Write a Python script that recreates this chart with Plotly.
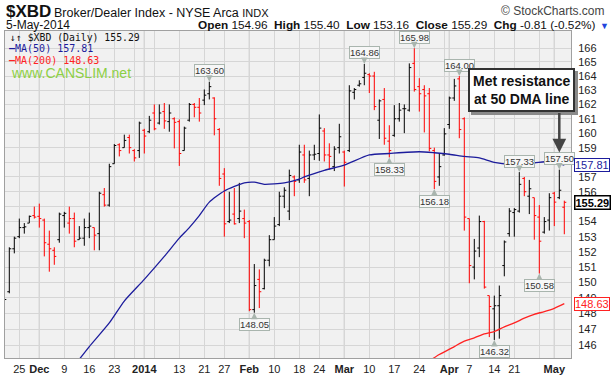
import numpy as np
import pandas as pd
import plotly.graph_objects as go

# ---------------- data ----------------
holidays = ['2013-11-28', '2013-12-25', '2014-01-01', '2014-01-20', '2014-02-17', '2014-04-18']
dates = [d.strftime('%Y-%m-%d') for d in pd.bdate_range('2013-11-20', '2014-05-05')
         if d.strftime('%Y-%m-%d') not in holidays]

opens = [149.6, 149.4, 152.2, 153.0, 153.6, 153.9, 154.4, 154.35, 154.1, 152.5,
         152.1, 152.8, 154.4, 153.9, 154.2, 152.8, 152.9, 153.6, 153.6, 153.2,
         155.8, 155.1, 157.9, 159.2, 159.0, 159.7, 158.8, 158.8, 160.2, 160.1,
         161.4, 160.7, 161.5, 160.8, 161.0, 160.8, 158.8, 160.9, 162.0, 161.8,
         162.3, 162.75, 162.45, 160.25, 157.2, 154.0, 154.5, 154.2, 154.2, 154.0,
         148.25, 150.2, 149.6, 151.45, 152.8, 153.8, 155.7, 154.7, 157.0, 156.8,
         158.5, 156.9, 158.5, 158.6, 160.15, 158.5, 157.7, 159.0, 158.7, 158.8,
         162.85, 163.35, 163.9, 164.1, 164.0, 160.9, 162.35, 159.45, 159.85, 161.0,
         161.7, 161.6, 164.9, 163.25, 163.05, 162.75, 158.8, 157.0, 158.5, 160.6,
         162.45, 163.8, 161.0, 154.2, 151.0, 152.25, 154.0, 149.15, 148.3, 148.5,
         151.1, 153.2, 154.6, 154.7, 156.9, 155.7, 155.6, 154.3, 153.3, 154.1,
         155.9, 155.6, 154.96]
highs = [149.9, 152.3, 153.0, 154.2, 153.9, 154.4, 155.0, 155.2, 154.2, 153.4,
         152.3, 154.6, 154.65, 155.0, 154.6, 153.7, 154.2, 154.6, 153.6, 156.0,
         156.25, 157.9, 159.25, 159.3, 159.9, 159.9, 158.9, 160.8, 160.3, 161.2,
         162.0, 162.0, 162.1, 162.0, 161.1, 160.95, 160.45, 162.1, 162.1, 162.45,
         163.05, 163.60, 162.5, 160.35, 157.6, 156.0, 156.25, 156.6, 154.8, 154.1,
         151.2, 150.85, 151.55, 153.1, 154.3, 156.0, 156.3, 157.5, 157.1, 159.2,
         159.2, 158.8, 159.2, 161.3, 160.35, 159.3, 159.1, 160.65, 158.8, 163.35,
         163.15, 163.7, 164.86, 164.2, 164.3, 162.35, 163.15, 160.55, 161.95, 162.1,
         162.0, 164.9, 165.98, 163.85, 163.35, 163.15, 159.0, 158.6, 160.35, 162.55,
         163.8, 164.00, 161.1, 154.2, 152.85, 154.4, 154.05, 149.15, 149.15, 149.8,
         152.75, 154.9, 154.9, 157.33, 157.0, 156.8, 155.6, 155.1, 154.3, 155.9,
         156.0, 157.50, 155.40]
lows = [148.7, 149.3, 151.9, 152.9, 153.2, 153.9, 154.2, 153.6, 151.7, 150.7,
        151.15, 152.6, 153.6, 153.2, 152.3, 152.8, 152.4, 152.9, 152.1, 152.1,
        155.0, 155.0, 157.9, 158.4, 159.0, 158.6, 158.05, 158.3, 158.6, 160.0,
        160.2, 160.6, 160.3, 160.1, 158.95, 157.75, 158.8, 160.8, 161.1, 160.8,
        161.95, 162.35, 159.85, 156.4, 153.0, 153.9, 153.8, 153.9, 152.9, 148.15,
        148.05, 148.35, 149.55, 151.05, 152.8, 153.7, 154.9, 154.1, 155.7, 156.6,
        156.6, 155.7, 158.15, 158.1, 158.05, 157.5, 157.4, 158.6, 156.35, 158.7,
        162.35, 163.25, 163.35, 162.8, 161.6, 159.6, 159.2, 158.33, 159.75, 160.8,
        160.0, 161.5, 162.9, 161.5, 160.05, 158.75, 156.18, 156.4, 158.45, 160.3,
        162.25, 159.65, 153.4, 149.95, 150.2, 151.65, 149.6, 146.5, 146.32, 146.4,
        150.4, 153.0, 153.0, 154.6, 155.7, 154.5, 152.8, 150.58, 153.2, 153.4,
        153.7, 155.5, 153.16]
closes = [148.9, 152.2, 152.9, 153.6, 153.65, 154.35, 154.3, 154.2, 152.6, 152.2,
          151.7, 154.5, 154.55, 154.2, 152.7, 152.9, 153.6, 153.7, 153.1, 155.9,
          155.1, 157.7, 159.15, 158.8, 159.5, 159.0, 158.3, 160.7, 159.8, 160.9,
          160.3, 161.4, 160.85, 161.4, 160.75, 158.6, 160.35, 162.0, 161.8, 161.4,
          162.65, 163.25, 161.0, 156.9, 153.85, 154.1, 153.85, 154.7, 153.9, 148.25,
          149.8, 149.4, 151.45, 152.8, 153.7, 155.7, 156.1, 157.1, 156.7, 158.7,
          156.8, 158.5, 158.55, 160.35, 158.5, 158.4, 158.9, 159.75, 158.0, 162.95,
          163.05, 163.45, 164.2, 164.0, 161.85, 162.25, 159.65, 158.8, 161.0, 161.6,
          161.7, 164.6, 163.05, 162.75, 162.6, 158.95, 156.7, 157.7, 159.95, 162.45,
          163.3, 160.25, 154.3, 151.1, 152.05, 154.0, 149.7, 148.45, 148.5, 149.15,
          152.65, 154.7, 154.8, 156.5, 156.0, 156.2, 154.4, 152.7, 154.0, 155.6,
          155.3, 156.10, 155.29]

ma50_dates = ['2013-12-12', '2013-12-16', '2013-12-20', '2013-12-26', '2014-01-02', '2014-01-08',
              '2014-01-13', '2014-01-15', '2014-01-17', '2014-01-22', '2014-01-27', '2014-01-31',
              '2014-02-04', '2014-02-06', '2014-02-12', '2014-02-18', '2014-02-19', '2014-02-25',
              '2014-03-03', '2014-03-10', '2014-03-14', '2014-03-24', '2014-03-27', '2014-04-01',
              '2014-04-04', '2014-04-09', '2014-04-14', '2014-04-21', '2014-04-25', '2014-04-30',
              '2014-05-05']
ma50_vals = [145.1, 145.9, 147.4, 148.8, 150.2, 151.7,
             152.9, 153.6, 154.4, 155.3, 156.05, 156.6,
             156.65, 156.5, 156.6, 156.85, 157.0, 157.45,
             157.8, 158.5, 158.6, 158.72, 158.65, 158.55,
             158.4, 158.3, 158.0, 157.85, 157.95, 158.05,
             157.81]
ma200_dates = ['2014-03-26', '2014-03-28', '2014-04-02', '2014-04-04', '2014-04-08', '2014-04-10',
               '2014-04-14', '2014-04-16', '2014-04-21', '2014-04-23', '2014-04-25', '2014-04-29',
               '2014-05-01', '2014-05-05']
ma200_vals = [145.0, 145.4, 145.9, 146.25, 146.45, 146.7,
              146.85, 147.15, 147.4, 147.7, 147.95, 148.12,
              148.33, 148.63]

tick_labels = {'2013-11-25': '25', '2013-12-02': '<b>Dec</b>', '2013-12-09': '9',
               '2013-12-16': '16', '2013-12-23': '23', '2013-12-30': '',
               '2014-01-02': '<b>2014</b>', '2014-01-06': '', '2014-01-13': '13',
               '2014-01-21': '21', '2014-01-27': '27', '2014-02-03': '<b>Feb</b>',
               '2014-02-10': '10', '2014-02-18': '18', '2014-02-24': '24',
               '2014-03-03': '<b>Mar</b>', '2014-03-10': '10', '2014-03-17': '17',
               '2014-03-24': '24', '2014-03-31': '', '2014-04-01': '<b>Apr</b>',
               '2014-04-07': '7', '2014-04-14': '14', '2014-04-21': '21',
               '2014-04-28': '', '2014-05-01': '<b>May</b>'}
month_starts = ['2013-12-02', '2014-01-02', '2014-02-03', '2014-03-03', '2014-04-01', '2014-05-01']

# price callouts: (date, value, 'high'/'low')
callouts = [('2014-01-22', 163.60, 'high'), ('2014-03-07', 164.86, 'high'),
            ('2014-03-21', 165.98, 'high'), ('2014-04-03', 164.00, 'high'),
            ('2014-03-14', 158.33, 'low'), ('2014-03-27', 156.18, 'low'),
            ('2014-02-04', 148.05, 'low'), ('2014-04-14', 146.32, 'low'),
            ('2014-04-22', 157.33, 'high'), ('2014-05-02', 157.50, 'high'),
            ('2014-04-28', 150.58, 'low')]

y_ticks = list(range(146, 167))

# ---------------- figure ----------------
W, H = 612, 375
ML, MR, MT, MB = 5, 41, 31, 17
PW, PH = W - ML - MR, H - MT - MB

pos = {d: i for i, d in enumerate(dates)}
xs = np.arange(len(dates))
n = len(dates)
up = [True] + [closes[i] >= closes[i - 1] for i in range(1, n)]

def pick(arr, mask):
    return [a for a, m in zip(arr, mask) if m]

fig = go.Figure()
for mask, col in [(up, '#000000'), ([not u for u in up], '#ff0000')]:
    fig.add_trace(go.Ohlc(
        x=pick(list(xs), mask), open=pick(opens, mask), high=pick(highs, mask),
        low=pick(lows, mask), close=pick(closes, mask),
        increasing=dict(line=dict(color=col, width=1)),
        decreasing=dict(line=dict(color=col, width=1)),
        tickwidth=0.4, showlegend=False, hoverinfo='skip'))

fig.add_trace(go.Scatter(x=[pos[d] for d in ma50_dates], y=ma50_vals, mode='lines',
                         line=dict(color='#1c1c9c', width=1.3, shape='spline', smoothing=0.6),
                         showlegend=False, hoverinfo='skip'))
fig.add_trace(go.Scatter(x=[pos[d] for d in ma200_dates], y=ma200_vals, mode='lines',
                         line=dict(color='#ff2222', width=1.3, shape='spline', smoothing=0.6),
                         showlegend=False, hoverinfo='skip'))

# y range in px calibrated: 166 at y=48, 146 at y=345 (log)
k = 297 / np.log(166 / 146)
top_val = 166 * np.exp((48 - MT) / k)
bot_val = 166 * np.exp(-((H - MB) - 48) / k)
x0 = pos['2013-11-25']
xr = [x0 + (ML - 19.3) / 5, x0 + (ML + PW - 19.3) / 5]

shapes = []
for d in month_starts:
    shapes.append(dict(type='line', xref='x', yref='paper', x0=pos[d], x1=pos[d], y0=0, y1=1,
                       line=dict(color='#b4b4b4', width=1), layer='between'))

fig.update_layout(
    width=W, height=H, margin=dict(l=ML, r=MR, t=MT, b=MB),
    paper_bgcolor='white', plot_bgcolor='#f1f1f1',
    font=dict(family='Liberation Sans, Arial, sans-serif', color='#222'),
    shapes=shapes,
    xaxis=dict(range=xr, tickvals=[pos[d] for d in tick_labels], ticktext=list(tick_labels.values()),
               showgrid=True, gridcolor='#d6d6d6', gridwidth=1, zeroline=False,
               showline=True, linecolor='#a0a0a0', mirror=True, ticks='',
               tickfont=dict(size=11, color='#222'), rangeslider=dict(visible=False),
               fixedrange=True, automargin=False, ticklabelstandoff=1),
    yaxis=dict(type='log', range=[np.log10(bot_val), np.log10(top_val)], side='right',
               tickvals=y_ticks, ticktext=[str(v) for v in y_ticks],
               showgrid=True, gridcolor='#d6d6d6', gridwidth=1, zeroline=False,
               showline=True, linecolor='#a0a0a0', mirror=True, ticks='',
               tickfont=dict(size=11, color='#222'), ticklabelstandoff=4, fixedrange=True,
               automargin=False),
)

def px(xp):
    return (xp - ML) / PW

def py(yp):
    return (H - MB - yp) / PH

ann = []
# header
ann.append(dict(xref='paper', yref='paper', x=px(4), y=py(12), xanchor='left', yanchor='middle',
                text='<b>$XBD</b>', showarrow=False, font=dict(size=17, color='#111')))
ann.append(dict(xref='paper', yref='paper', x=px(52), y=py(13), xanchor='left', yanchor='middle',
                text='Broker/Dealer Index - NYSE Arca <span style="font-size:11px">INDX</span>',
                showarrow=False, font=dict(size=12.5, color='#111')))
ann.append(dict(xref='paper', yref='paper', x=px(607), y=py(11), xanchor='right', yanchor='middle',
                text='© StockCharts.com', showarrow=False, font=dict(size=12, color='#444')))
ann.append(dict(xref='paper', yref='paper', x=px(4), y=py(25), xanchor='left', yanchor='middle',
                text='5-May-2014', showarrow=False, font=dict(size=12, color='#111')))
ann.append(dict(xref='paper', yref='paper', x=px(597), y=py(25), xanchor='right', yanchor='middle',
                text='<b>Open</b> 154.96  <b>High</b> 155.40  <b>Low</b> 153.16  <b>Close</b> 155.29  <b>Chg</b> -0.81 (-0.52%)',
                showarrow=False, font=dict(size=11.8, color='#111')))
ann.append(dict(xref='paper', yref='paper', x=px(604), y=py(26), xanchor='center', yanchor='middle',
                text='▼', showarrow=False, font=dict(size=9, color='#2244dd')))
# legend
ann.append(dict(xref='paper', yref='paper', x=px(8), y=py(37), xanchor='left', yanchor='middle',
                text='↓↑ $XBD (Daily) 155.29', showarrow=False,
                font=dict(size=9.8, color='#111', family='DejaVu Sans Mono, monospace')))
ann.append(dict(xref='paper', yref='paper', x=px(7), y=py(48.5), xanchor='left', yanchor='middle',
                text='<b>–</b>MA(50) 157.81', showarrow=False,
                font=dict(size=10, color='#1c1c9c', family='DejaVu Sans Mono, monospace')))
ann.append(dict(xref='paper', yref='paper', x=px(7), y=py(60), xanchor='left', yanchor='middle',
                text='<b>–</b>MA(200) 148.63', showarrow=False,
                font=dict(size=10, color='#ff2222', family='DejaVu Sans Mono, monospace')))
ann.append(dict(xref='paper', yref='paper', x=px(9), y=py(73), xanchor='left', yanchor='middle',
                text='www.CANSLIM.net', showarrow=False, font=dict(size=14, color='#8ccf45')))

# callouts
for d, v, kind in callouts:
    ann.append(dict(xref='x', yref='y', x=pos[d], y=np.log10(v), text=str('%.2f' % v),
                    showarrow=True, ax=0, ay=-11 if kind == 'high' else 12,
                    arrowhead=2, arrowsize=1.3, arrowwidth=1, arrowcolor='#a9b5ae', standoff=0,
                    bgcolor='#f7f7f7', bordercolor='#a9b5ae', borderwidth=1, borderpad=0,
                    font=dict(size=9.5, color='#333')))

# comment box with shadow
box_txt = '<b>Met resistance</b><br><b>at 50 DMA line</b>'
ann.append(dict(xref='paper', yref='paper', x=px(524.5), y=py(92.5), xanchor='center', yanchor='middle',
                text=box_txt, showarrow=False, bgcolor='#8a8a8a', bordercolor='#8a8a8a', borderwidth=2,
                borderpad=3, font=dict(size=14, color='#8a8a8a')))
ann.append(dict(xref='paper', yref='paper', x=px(521.5), y=py(89.5), xanchor='center', yanchor='middle',
                text=box_txt, showarrow=False, bgcolor='white', bordercolor='#333', borderwidth=2,
                borderpad=3, font=dict(size=14, color='#111')))
ann.append(dict(xref='x', yref='y', x=pos['2014-05-02'], y=np.log10(157.50), text='',
                showarrow=True, ax=0, ay=-58, standoff=17, arrowhead=2, arrowsize=1.1,
                arrowwidth=2.5, arrowcolor='#444'))

# value tags on right
for v, col, bw, bold in [(157.81, '#1c1c9c', 1, False), (155.29, '#000000', 1.5, True),
                         (148.63, '#ff2222', 1, False)]:
    t = '%.2f' % v
    ann.append(dict(xref='paper', yref='y', x=px(574), y=np.log10(v), xanchor='left', yanchor='middle',
                    text='<b>%s</b>' % t if bold else t, showarrow=False, bgcolor='white',
                    bordercolor=col, borderwidth=bw, borderpad=0,
                    font=dict(size=11, color=col)))

fig.update_layout(annotations=ann)
fig.write_html('out.html', config={'displayModeBar': False, 'staticPlot': True},
               post_script="document.body.style.margin='0px';document.body.style.overflow='hidden';")
